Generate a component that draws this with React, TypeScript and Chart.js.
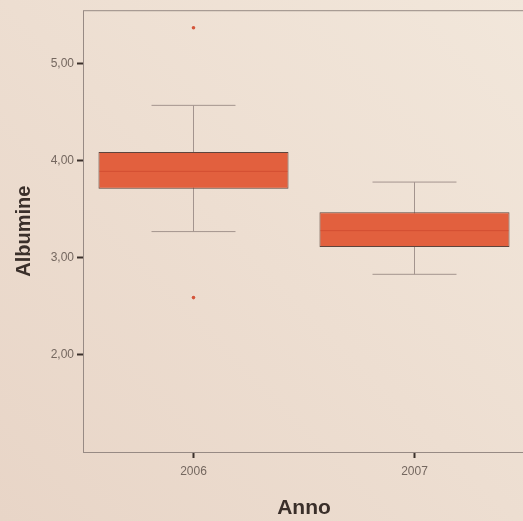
import { useEffect, useRef } from 'react';
import { Chart, registerables } from 'chart.js';

Chart.register(...registerables);

const years = ['2006', '2007'];
const q1 = [3.71, 3.11];
const q3 = [4.09, 3.47];
const medians = [3.89, 3.28];
const whiskerLow = [3.27, 2.83];
const whiskerHigh = [4.57, 3.78];
const outlierYears = ['2006', '2006'];
const outlierValues = [5.37, 2.59];
const yTicks = [2, 3, 4, 5];

export default function App() {
  const ref = useRef<HTMLCanvasElement>(null);

  useEffect(() => {
    if (!ref.current) return;

    const bg = {
      id: 'bg',
      beforeDraw(c: any) {
        const ctx = c.ctx;
        const g = ctx.createLinearGradient(c.width, 0, 0, c.height);
        g.addColorStop(0, '#f2e7db');
        g.addColorStop(1, '#e8d5c7');
        ctx.save();
        ctx.fillStyle = g;
        ctx.fillRect(0, 0, c.width, c.height);
        ctx.restore();
      },
    };

    const whiskers = {
      id: 'whiskers',
      beforeDatasetsDraw(c: any) {
        const ctx = c.ctx;
        const x = c.scales.x;
        const y = c.scales.y;
        const half = x.getPixelForValue(1) - x.getPixelForValue(0);
        const cap = half * 0.19;
        ctx.save();
        ctx.strokeStyle = '#a3948e';
        ctx.lineWidth = 1;
        years.forEach((_, i) => {
          const cx = x.getPixelForValue(i);
          const yl = y.getPixelForValue(whiskerLow[i]);
          const yh = y.getPixelForValue(whiskerHigh[i]);
          ctx.beginPath();
          ctx.moveTo(cx, yl);
          ctx.lineTo(cx, yh);
          ctx.moveTo(cx - cap, yl);
          ctx.lineTo(cx + cap, yl);
          ctx.moveTo(cx - cap, yh);
          ctx.lineTo(cx + cap, yh);
          ctx.stroke();
        });
        ctx.restore();
      },
      afterDatasetsDraw(c: any) {
        const ctx = c.ctx;
        const meta = c.getDatasetMeta(0);
        const y = c.scales.y;
        ctx.save();
        ctx.strokeStyle = '#cf4a30';
        ctx.lineWidth = 0.8;
        meta.data.forEach((bar: any, i: number) => {
          const py = y.getPixelForValue(medians[i]);
          ctx.beginPath();
          ctx.moveTo(bar.x - bar.width / 2 + 1, py);
          ctx.lineTo(bar.x + bar.width / 2 - 1, py);
          ctx.stroke();
        });
        const a = c.chartArea;
        ctx.strokeStyle = '#978a84';
        ctx.lineWidth = 1;
        ctx.strokeRect(a.left + 0.5, a.top + 0.5, a.right - a.left - 1, a.bottom - a.top);
        ctx.restore();
      },
    };

    const chart = new Chart(ref.current, {
      type: 'bar',
      data: {
        labels: years,
        datasets: [
          {
            type: 'bar',
            data: years.map((_, i) => [q1[i], q3[i]]) as any,
            backgroundColor: '#e2603e',
            borderColor: '#5e443c',
            borderWidth: 1,
            borderSkipped: false,
            barPercentage: 0.86,
            categoryPercentage: 1,
          },
          {
            type: 'line',
            data: outlierYears.map((yr, i) => ({ x: yr, y: outlierValues[i] })) as any,
            showLine: false,
            pointRadius: 1.8,
            pointBackgroundColor: '#d4553a',
            pointBorderWidth: 0,
          },
        ],
      },
      options: {
        responsive: false,
        animation: false,
        layout: { padding: { top: 7, right: 0, left: 0, bottom: 0 } },
        plugins: { legend: { display: false }, tooltip: { enabled: false } },
        scales: {
          x: {
            offset: true,
            grid: {
              offset: false,
              drawOnChartArea: false,
              drawTicks: true,
              tickLength: 6,
              tickWidth: 2,
              color: '#3b302b',
            },
            border: { display: false },
            ticks: {
              color: '#74675f',
              font: { family: 'Liberation Sans, Arial, sans-serif', size: 12 },
              padding: 6,
            },
            title: {
              display: true,
              text: 'Anno',
              color: '#3a2f2a',
              font: { family: 'Liberation Sans, Arial, sans-serif', size: 21, weight: 'bold' },
              padding: { top: 0, bottom: 0 },
            },
            afterFit(scale: any) {
              scale.height = 69;
            },
          },
          y: {
            min: 1.0,
            max: 5.55,
            afterBuildTicks(scale: any) {
              scale.ticks = yTicks.map((v) => ({ value: v }));
            },
            grid: {
              drawOnChartArea: false,
              drawTicks: true,
              tickLength: 6,
              tickWidth: 2,
              color: '#3b302b',
            },
            border: { display: false },
            ticks: {
              color: '#74675f',
              font: { family: 'Liberation Sans, Arial, sans-serif', size: 12 },
              padding: 3,
              callback: (v: any) => Number(v).toFixed(2).replace('.', ','),
            },
            title: {
              display: true,
              text: 'Albumine',
              color: '#3a2f2a',
              font: { family: 'Liberation Sans, Arial, sans-serif', size: 20, weight: 'bold' },
              padding: { top: 12, bottom: 0 },
            },
            afterFit(scale: any) {
              scale.width = 83;
            },
          },
        },
      },
      plugins: [bg, whiskers],
    });

    return () => chart.destroy();
  }, []);

  return (
    <div style={{ position: 'absolute', left: 0, top: 0, width: 523, height: 521, overflow: 'hidden' }}>
      <canvas ref={ref} width={529} height={521} />
    </div>
  );
}
